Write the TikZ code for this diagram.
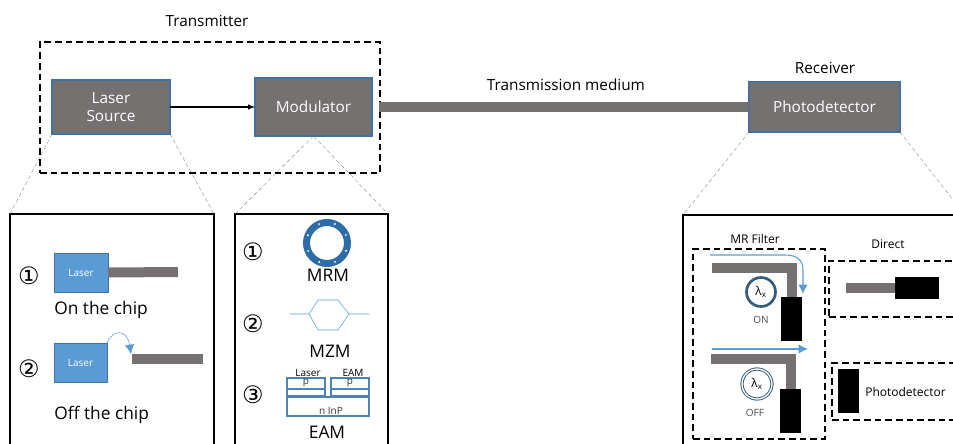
\documentclass[tikz,border=0pt]{standalone}
\usepackage{fontspec}
\setmainfont{Open Sans}
\newfontfamily\circfont{DejaVu Sans}
\usetikzlibrary{arrows.meta}
\definecolor{wavegray}{HTML}{767171}
\definecolor{laserblue}{HTML}{5B9BD5}
\definecolor{edgeblue}{HTML}{41719C}
\definecolor{ringblue}{HTML}{2E6CA8}
\newcommand{\fs}[1]{\fontsize{#1}{#1}\selectfont}
\begin{document}
\begin{tikzpicture}[x=0.75pt,y=-0.75pt,font=\fs{11.5}]
	\tikzstyle{pxsize} = [inner sep=0, outer sep=0, minimum width=#1]
	\tikzset{pxbox/.style 2 args={inner sep=0, outer sep=0, minimum width=#1*0.75pt, minimum height=#2*0.75pt}}
	\tikzstyle{block} = [fill=wavegray, draw=edgeblue, thick, text=white, align=center, font=\fs{11.5}, text depth=0pt]
	\tikzstyle{laser} = [fill=laserblue, draw=edgeblue, text=white, font=\fs{7.5}]
	\tikzstyle{panel} = [draw=black, thick]
	\tikzstyle{dashbox} = [draw=black, thick, dash pattern=on 5pt off 3pt]
	\tikzstyle{zoomline} = [draw=black!60, densely dashed, very thin]
	\tikzstyle{wave} = [draw=wavegray, line width=7.5pt]
	\tikzstyle{bluearrow} = [draw=laserblue, thick, -{Latex[length=7pt,width=7pt]}]
	\tikzstyle{detector} = [fill=black]
	\tikzstyle{eam} = [draw=laserblue!85!black, line width=1.2pt]
	\tikzstyle{circled} = [font=\circfont\fs{18}, inner sep=0]
	\tikzstyle{small} = [font=\fs{7.5}, text=black!70, inner sep=0]

	\useasboundingbox (0,0) rectangle (953,443);
	\clip (0,0) rectangle (953,443);

	% top row
	\node [pxbox={340}{131}, dashbox] (tx) at (210,107.5) {};
	\node (txlabel) at (207,21) {Transmitter};
	\node [pxbox={118}{54}, block] (source) at (111,107) {Laser\\[2pt]Source};
	\node [pxbox={117}{58}, block] (modulator) at (313.5,107) {Modulator};
	\node [pxbox={151}{50}, block] (pd) at (824.5,107) {Photodetector};
	\node (medium) at (566,85) {Transmission medium};
	\node (rxlabel) at (825,68) {Receiver};
	\draw [-latex, thick] (source.east) -- (modulator.west);
	\draw [wave, shorten <=5.25pt] (modulator.east) -- (pd.west);

	% zoom panels
	\node [pxbox={204}{300}, panel] (p1) at (112,364) {};
	\node [pxbox={153}{300}, panel] (p2) at (311.5,364) {};
	\node [pxbox={300}{300}, panel] (p3) at (833,365) {};
	\draw [zoomline] (source.south west) -- (p1.north west);
	\draw [zoomline] (source.south east) -- (p1.north east);
	\draw [zoomline] (modulator.south) -- (p2.north west);
	\draw [zoomline] (modulator.south) -- (p2.north east);
	\draw [zoomline] (pd.south west) -- (p3.north west);
	\draw [zoomline] (pd.south east) -- (983,238);

	% laser source
	\node [circled] (s1) at (29,276) {①};
	\node [circled] (s2) at (29,369) {②};
	\node [pxbox={54}{39}, laser] (laser1) at (81,272.5) {Laser};
	\node [pxbox={53}{39}, laser] (laser2) at (80.5,362.5) {Laser};
	\coordinate (w1) at (178,272);
	\coordinate (w2) at (132,359);
	\coordinate (w3) at (203,359);
	\draw [wave] (laser1.east) -- (w1);
	\draw [wave] (w2) -- (w3);
	\draw [draw=laserblue, -{Latex[length=7pt,width=7pt]}] (laser2.north east) .. controls (112,330) and (127,328) .. (131,354);
	\node [anchor=west, inner sep=0, font=\fs{13}] (onchip) at (54,310) {On the chip};
	\node [anchor=west, inner sep=0, font=\fs{13}] (offchip) at (54,415) {Off the chip};

	% modulator
	\foreach \c [count=\x from 0] in {①,②,③}
	{
		\node [circled] (m\x) at (253,252+\x*71.5) {\c};
	}
	\node [circle, draw=ringblue, line width=5.25pt, minimum size=41*0.75pt, inner sep=0] (mrm) at (327,243) {};
	\foreach \a in {0,45,...,315}
	{
		\fill [white] (mrm)+(\a+22:20.5) circle (1.1);
	}
	\node [font=\fs{13}] (mrmlabel) at (328,275) {MRM};
	\coordinate (z1) at (290,314);
	\coordinate (z2) at (309,314);
	\coordinate (z3) at (349,314);
	\coordinate (z4) at (369,314);
	\draw [draw=laserblue, thin] (z1) -- (z2) -- (318,300) -- (338,300) -- (z3) -- (338,330) -- (318,330) -- (z2) (z3) -- (z4);
	\node [font=\fs{13}] (mzmlabel) at (330,351) {MZM};
	\node [small, text=black] (eamlaser) at (308,373) {Laser};
	\node [small, text=black] (eamtop) at (353,373) {EAM};
	\node [pxbox={38}{18}, eam] (b1) at (306,387) {};
	\node [pxbox={38}{18}, eam] (b2) at (350,387) {};
	\node [pxbox={82}{19}, eam] (b3) at (328,406.5) {};
	\draw [eam, line width=0.8pt] (287,389) -- (325,389) (331,389) -- (369,389);
	\node [small, text=black!80] (p1label) at (306,383) {p};
	\node [small, text=black!80] (p2label) at (350,383) {p};
	\node [small, text=black!80] (inp) at (331,411) {n InP};
	\node [font=\fs{13}] (eamlabel) at (327,432) {EAM};

	% receiver
	\node [pxbox={132}{190}, dashbox] (mr) at (759,344) {};
	\node [pxbox={140}{56}, dashbox] (direct) at (899,289) {};
	\node [pxbox={140}{57}, dashbox] (alone) at (902,391.5) {};
	\node [font=\fs{9}] (mrlabel) at (755,239) {MR Filter};
	\node [font=\fs{9}] (directlabel) at (888,244) {Direct};
	\node [pxbox={21}{44}, detector] (d1) at (791.5,319) {};
	\node [pxbox={21}{44}, detector] (d2) at (790.5,411) {};
	\node [pxbox={44}{22}, detector] (d3) at (917,288) {};
	\node [pxbox={21}{44}, detector] (d4) at (848.5,391) {};
	\coordinate (g1) at (712,267.5);
	\coordinate (g2) at (711,359);
	\coordinate (g3) at (846,288);
	\draw [wave] (g1) -| (d1.north);
	\draw [wave] (g2) -| (d2.north);
	\draw [wave] (g3) -- (d3.west);
	\draw [bluearrow] (710,255) -- (785,255) .. controls (797,255) and (803,260) .. (803,270) -- (803,294);
	\draw [bluearrow, line width=1pt] (712,349) -- (808,349);
	\node [circle, draw=edgeblue!80!black, line width=2pt, minimum size=29*0.75pt, inner sep=0, font=\fs{9}] (r1) at (761,292) {λ\textsubscript{x}};
	\node [circle, double=white, double distance=1pt, draw=edgeblue!80!black, line width=0.7pt, minimum size=30*0.75pt, inner sep=0, font=\fs{9}] (r2) at (757,384) {λ\textsubscript{x}};
	\node [small] (on) at (761,320) {ON};
	\node [small] (off) at (755,413) {OFF};
	\node [anchor=west, inner sep=0, font=\fs{9}] (pdlabel) at (865,392) {Photodetector};
\end{tikzpicture}
\end{document}
